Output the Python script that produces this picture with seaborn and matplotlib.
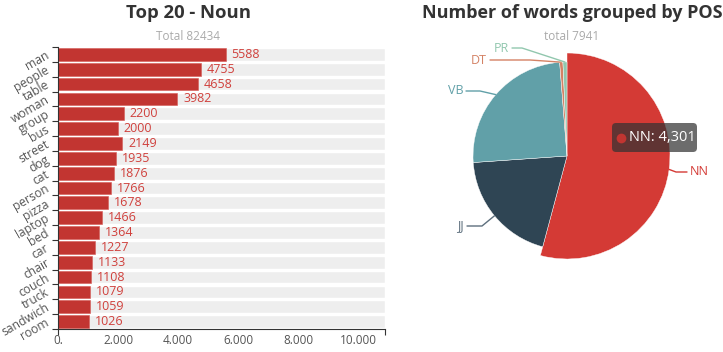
import matplotlib
matplotlib.use("Agg")
import matplotlib.pyplot as plt
import numpy as np
import pandas as pd
import seaborn as sns
from matplotlib.patches import FancyBboxPatch

# --- data -------------------------------------------------------------
nouns = ["man", "people", "table", "woman", "group", "bus", "street", "dog",
         "cat", "person", "pizza", "laptop", "bed", "car", "chair", "couch",
         "truck", "sandwich", "room"]
noun_counts = [5588, 4755, 4658, 3982, 2200, 2000, 2149, 1935, 1876, 1766,
               1678, 1466, 1364, 1227, 1133, 1108, 1079, 1059, 1026]
noun_total = 82434
x_ticks = [0, 2000, 4000, 6000, 8000, 10000]
x_tick_labels = ["0.", "2.000", "4.000", "6.000", "8.000", "10.000"]
x_max = 10900

pos_tags = ["NN", "JJ", "VB", "DT", "PR"]
pos_counts = [4301, 1567, 1974, 44, 55]
pos_total = 7941

# --- style ------------------------------------------------------------
sns.set_theme(style="white")
plt.rcParams["font.family"] = ["Open Sans", "DejaVu Sans"]

W, H = 723, 352
fig = plt.figure(figsize=(W / 100, H / 100), dpi=100)

BAR_RED = "#c23531"
LABEL_RED = "#d0403c"
AXIS_GREY = "#333333"
TEXT_GREY = "#555555"

# --- left: horizontal bar chart --------------------------------------
left, right, top, bottom = 58, 385, 47, 329
ax = fig.add_axes([left / W, 1 - bottom / H, (right - left) / W, (bottom - top) / H])

df = pd.DataFrame({"noun": nouns, "count": noun_counts})
n = len(df)

# light grey track behind every bar, running to the end of the value axis
sns.barplot(data=df.assign(track=x_max), x="track", y="noun", orient="h",
            color="#eeeeee", saturation=1, width=0.86, ax=ax)
sns.barplot(data=df, x="count", y="noun", orient="h", color=BAR_RED,
            saturation=1, width=0.86, ax=ax,
            edgecolor="#d45a55", linewidth=0.4)

for i, v in enumerate(noun_counts):
    ax.text(v + 190, i, str(v), color=LABEL_RED, fontsize=9, va="center", ha="left")

ax.set_xlim(0, x_max)
ax.set_ylim(n - 0.5, -0.5)
ax.set_xlabel("")
ax.set_ylabel("")

# value axis: ticks only at both ends, labels under each step
ax.set_xticks([0, x_max])
ax.set_xticklabels([])
for t, lab in zip(x_ticks, x_tick_labels):
    ax.text(t, n - 0.5 + 0.75, lab, ha="center", va="center",
            fontsize=8.5, color=TEXT_GREY)

# category axis: labels at band centres, tick marks on band boundaries
ax.set_yticks(np.arange(n))
ax.set_yticklabels(nouns, rotation=30, rotation_mode="anchor", ha="right",
                   va="center", fontsize=8.7, color=TEXT_GREY)
ax.set_yticks(np.arange(n + 1) - 0.5, minor=True)
ax.tick_params(axis="y", which="major", length=0, pad=7)
ax.tick_params(axis="y", which="minor", length=4, width=0.8, color=AXIS_GREY,
               direction="out", left=True)
ax.tick_params(axis="x", which="major", length=4, width=0.8, color=AXIS_GREY,
               direction="out", bottom=True)
for side in ["top", "right"]:
    ax.spines[side].set_visible(False)
for side in ["left", "bottom"]:
    ax.spines[side].set_color(AXIS_GREY)
    ax.spines[side].set_linewidth(0.8)
ax.set_facecolor("white")

fig.text(188 / W, 1 - 13 / H, "Top 20 - Noun", ha="center", va="center",
         fontsize=13.3, fontweight="bold", color="#333333")
fig.text(188 / W, 1 - 37 / H, f"Total {noun_total}", ha="center", va="center",
         fontsize=8.5, color="#aaaaaa")

# --- right: pie chart -------------------------------------------------
px0 = 400
pax = fig.add_axes([px0 / W, 0, (W - px0) / W, 1])
pax.set_xlim(px0, W)
pax.set_ylim(0, H)
pax.set_aspect("equal")
pax.axis("off")

cx, cy = 567, H - 156
R = 94
R_hi = 103
pie_colors = ["#d43a35", "#2f4554", "#61a0a8", "#d48265", "#91c7ae"]
wedges, _ = pax.pie(pos_counts, colors=pie_colors, startangle=90,
                    counterclock=False, center=(cx, cy), radius=R,
                    wedgeprops=dict(linewidth=0.3, edgecolor="white"))
wedges[0].set_radius(R_hi)   # highlighted slice
pax.set_xlim(px0, W)
pax.set_ylim(0, H)

# label guide lines: elbow -> label end (image pixel coords, y downwards)
guides = {
    "NN": [(676, 172), (687, 172)],
    "JJ": [(482, 226), (467, 226)],
    "VB": [(480, 91), (466, 91)],
    "DT": [(530, 60), (490, 60)],
    "PR": [(522, 48), (512, 48)],
}
label_colors = ["#d43a35", "#5d6f7d", "#61a0a8", "#d48265", "#91c7ae"]
angles = np.cumsum([0] + pos_counts) / pos_total * 360
for k, tag in enumerate(pos_tags):
    mid = (angles[k] + angles[k + 1]) / 2
    theta = np.deg2rad(90 - mid)
    r = R_hi if k == 0 else R
    ex, ey = cx + r * np.cos(theta), cy + r * np.sin(theta)
    xs = [ex] + [p[0] for p in guides[tag]]
    ys = [ey] + [H - p[1] for p in guides[tag]]
    pax.plot(xs, ys, color=label_colors[k], lw=1)
    end_x, end_y = xs[-1], ys[-1]
    to_right = end_x > cx
    pax.text(end_x + (3 if to_right else -3), end_y, tag,
             ha="left" if to_right else "right", va="center",
             fontsize=9, color=label_colors[k])

# tooltip for the highlighted slice
tx0, ty0, tw, th = 612, 123, 85, 29
box = FancyBboxPatch((tx0, H - ty0 - th), tw, th,
                     boxstyle="round,pad=0,rounding_size=4",
                     facecolor=(0.2, 0.2, 0.2, 0.72), edgecolor="none", zorder=5)
pax.add_patch(box)
pax.plot([tx0 + 9], [H - ty0 - th / 2], "o", ms=7, color="#c23531",
         markeredgewidth=0, zorder=6)
pax.text(tx0 + 17, H - ty0 - th / 2, f"{pos_tags[0]}: {pos_counts[0]:,}",
         ha="left", va="center", fontsize=10.5, color="white", zorder=6)

fig.text(572 / W, 1 - 13 / H, "Number of words grouped by POS", ha="center",
         va="center", fontsize=13, fontweight="bold", color="#333333")
fig.text(572 / W, 1 - 37 / H, f"total {pos_total}", ha="center", va="center",
         fontsize=8.5, color="#aaaaaa")

fig.savefig("out.png", dpi=100, facecolor="white")
